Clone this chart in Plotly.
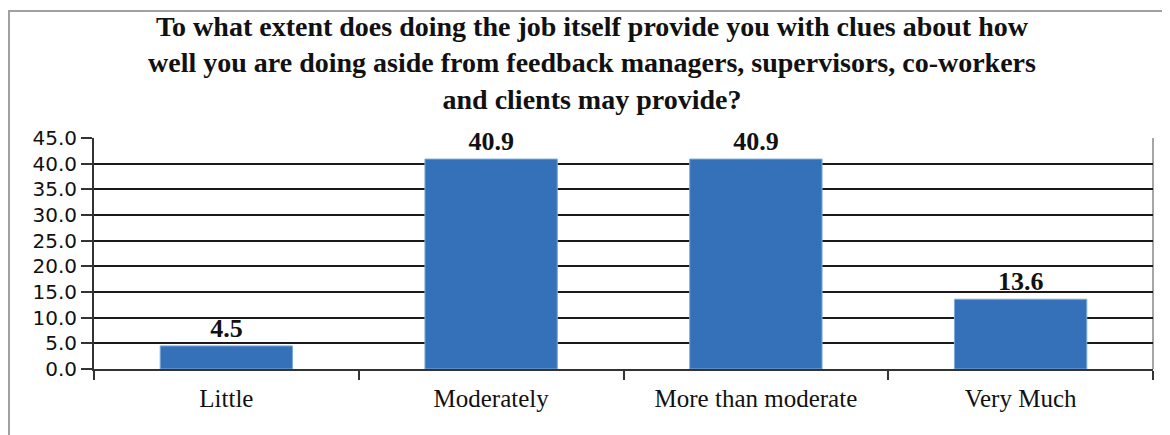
import plotly.graph_objects as go

categories = ["Little", "Moderately", "More than moderate", "Very Much"]
values = [4.5, 40.9, 40.9, 13.6]
value_labels = ["4.5", "40.9", "40.9", "13.6"]
y_ticks = [0, 5, 10, 15, 20, 25, 30, 35, 40, 45]
y_tick_labels = ["%.1f" % v for v in y_ticks]
title_lines = [
    "To what extent does doing the job itself provide you with clues about how",
    "well you are doing aside from feedback managers, supervisors, co-workers",
    "and clients may provide?",
]

# page body has an 8px margin, so the figure is sized to fill the rest
W, H = 1162, 427
L, R, T, B = 86, 17, 130, 66
pw, ph = W - L - R, H - T - B

def px_x(x):
    return (x - L) / pw

def px_y(y):
    return (H - B - y) / ph

fig = go.Figure()
fig.add_trace(go.Bar(
    x=categories,
    y=values,
    text=value_labels,
    textposition="outside",
    cliponaxis=False,
    textfont=dict(family="Liberation Serif", size=26, color="#111111", weight="bold"),
    marker=dict(color="#3571b9", line=dict(color="#7fa9dc", width=1)),
    width=0.5,
))

fig.update_layout(
    width=W, height=H,
    margin=dict(l=L, r=R, t=T, b=B, pad=0),
    paper_bgcolor="white",
    plot_bgcolor="white",
    showlegend=False,
    title=dict(
        text="<br>".join("<b>%s</b>" % s for s in title_lines),
        font=dict(family="Liberation Serif", size=28, color="#111111"),
        x=584 / W, xanchor="center",
        xref="container",
        y=1 - 28 / H, yanchor="top", yref="container",
    ),
    xaxis=dict(
        type="category",
        showgrid=False,
        showline=True, linecolor="#333333", linewidth=2,
        ticks="outside", tickson="boundaries", ticklen=9, tickwidth=2, tickcolor="#333333",
        tickfont=dict(family="Liberation Serif", size=25, color="#111111"),
        ticklabelstandoff=6,
        fixedrange=True,
    ),
    yaxis=dict(
        range=[0, 45],
        tickmode="array", tickvals=y_ticks, ticktext=y_tick_labels,
        showgrid=True, gridcolor="#1a1a1a", gridwidth=2,
        showline=True, linecolor="#333333", linewidth=2,
        ticks="outside", ticklen=11, tickwidth=2, tickcolor="#333333",
        tickfont=dict(family="DejaVu Sans", size=20, color="#111111"),
        zeroline=False,
        fixedrange=True,
    ),
    shapes=[
        dict(type="line", xref="paper", yref="paper", x0=1, x1=1, y0=0, y1=1,
             line=dict(color="#a6a6a6", width=2), layer="below"),
        dict(type="rect", xref="paper", yref="paper",
             x0=px_x(1), x1=px_x(W + 10), y0=px_y(H + 10), y1=px_y(3),
             line=dict(color="#a0a0a0", width=2), layer="below"),
    ],
)

fig.write_html("out.html")
